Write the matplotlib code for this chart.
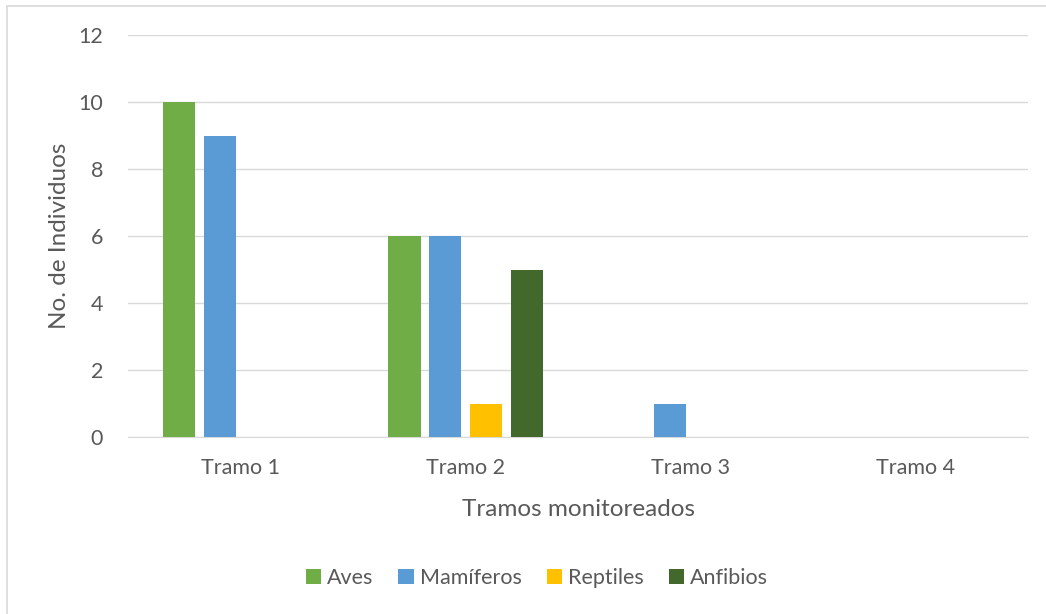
import numpy as np
import matplotlib.pyplot as plt
from matplotlib.patches import Rectangle

plt.rcParams['font.family'] = ['Lato', 'DejaVu Sans']

tramos = ["Tramo 1", "Tramo 2", "Tramo 3", "Tramo 4"]
grupos = ["Aves", "Mamíferos", "Reptiles", "Anfibios"]
aves = [10, 6, 0, 0]
mamiferos = [9, 6, 1, 0]
reptiles = [0, 1, 0, 0]
anfibios = [0, 5, 0, 0]
colores = ["#70AD47", "#5B9BD5", "#FFC000", "#43682B"]

gris = "#595959"

fig = plt.figure(figsize=(10.46, 6.14), dpi=100)
ax = fig.add_axes([128/1046, 1-437/614, 900/1046, 402/614])

x = np.arange(len(tramos))
paso = 0.182
ancho = 0.146
for i, (vals, nombre) in enumerate(zip([aves, mamiferos, reptiles, anfibios], grupos)):
    ax.bar(x + (i - 1.5)*paso, vals, ancho, color=colores[i], label=nombre, zorder=3)

ax.set_xlim(-0.5, 3.5)
ax.set_ylim(0, 12)
ax.set_yticks(range(0, 13, 2))
ax.set_xticks(x)
ax.set_xticklabels(tramos)
ax.yaxis.grid(True, color="#D9D9D9", linewidth=1, zorder=0)
ax.tick_params(length=0, labelsize=15.5, colors=gris)
ax.tick_params(axis="x", pad=15)
ax.tick_params(axis="y", pad=18)
for s in ["top", "right", "left"]:
    ax.spines[s].set_visible(False)
ax.spines["bottom"].set_color("#D9D9D9")

ax.set_xlabel("Tramos monitoreados", fontsize=17.5, color=gris, labelpad=15)
ax.set_ylabel("No. de Individuos", fontsize=17.5, color=gris)
ax.yaxis.set_label_coords(-58/900, 0.5)

fig.legend(loc="center", bbox_to_anchor=(537/1046, 1-578/614), ncol=4, frameon=False,
           fontsize=15.5, labelcolor=gris, handlelength=0.7, handleheight=0.7,
           handletextpad=0.3, columnspacing=1.15)

fig.patches.append(Rectangle((7/1046, -0.05), 1.1, 1-6/614+0.05, transform=fig.transFigure,
                             fill=False, edgecolor="#D9D9D9", linewidth=1.2))

fig.savefig("out.png", dpi=100)
